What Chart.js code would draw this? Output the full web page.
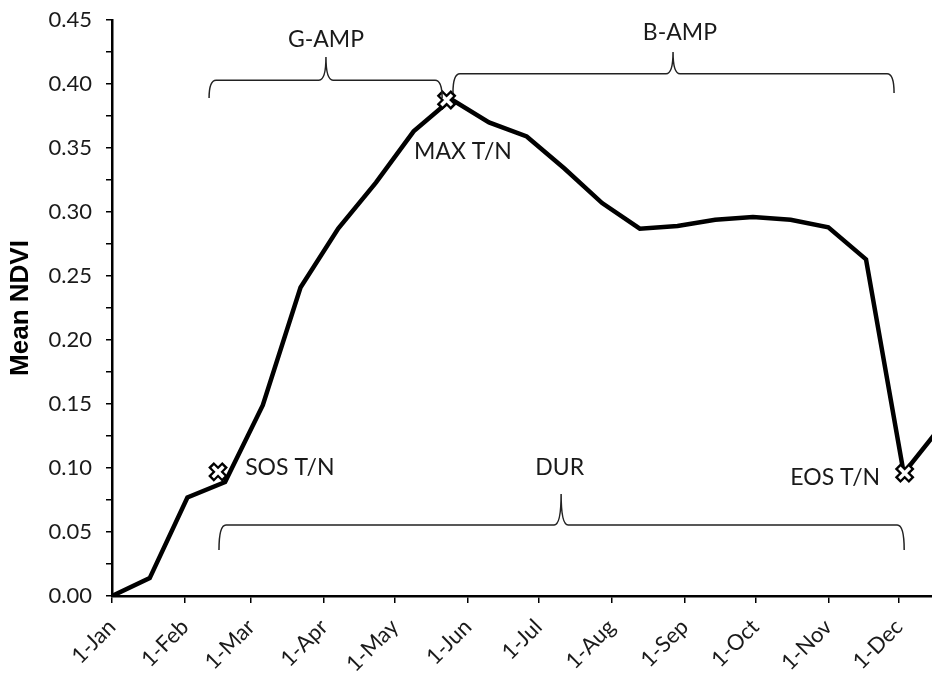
<!DOCTYPE html>
<html>
<head>
<meta charset="utf-8">
<script src="https://cdn.jsdelivr.net/npm/chart.js@4.4.1/dist/chart.umd.min.js"></script>
<style>
  html, body { margin: 0; padding: 0; background: #fff; overflow: hidden; }
  #wrap { width: 932px; height: 675px; position: relative; }
  canvas { display: block; }
</style>
</head>
<body>
<div id="wrap"><canvas id="myChart"></canvas></div>
<script>
// day of year for each 16-day composite, and mean NDVI
const days = [0, 16, 32, 48, 64, 80, 96, 112, 128, 144, 160, 176, 192, 208, 224, 240, 256, 272, 288, 304, 320, 336, 352]
const ndvi = [0.000, 0.014, 0.077, 0.089, 0.149, 0.241, 0.287, 0.323, 0.363, 0.388, 0.370, 0.359, 0.334,
              0.307, 0.287, 0.289, 0.294, 0.296, 0.294, 0.288, 0.263, 0.096, 0.133]

const monthDays = [0, 31, 59, 90, 120, 151, 181, 212, 243, 273, 304, 334]
const monthLabels = ['1-Jan', '1-Feb', '1-Mar', '1-Apr', '1-May', '1-Jun', '1-Jul', '1-Aug', '1-Sep', '1-Oct', '1-Nov', '1-Dec']

// phenology points (SOS, MAX, EOS)
const markerDays = [45, 142, 336.4]
const markerNdvi = [0.097, 0.3875, 0.096]

// text labels
const noteText = ['SOS T/N', 'MAX T/N', 'EOS T/N', 'G-AMP', 'B-AMP', 'DUR']
const noteDay = [56.5, 128.2, 326, 90.8, 241, 190]
const noteNdvi = [0.100, 0.347, 0.0925, 0.435, 0.440, 0.100]
const noteAlign = ['left', 'left', 'right', 'center', 'center', 'center']

// curly brackets: start, end, tip (days) and bar, ends, tip (ndvi)
const bracketStart = [41.2, 144.7, 45.4]
const bracketEnd = [140.1, 331.9, 336.2]
const bracketTip = [90.8, 238.1, 190.6]
const bracketBar = [0.403, 0.408, 0.0555]
const bracketFoot = [0.389, 0.393, 0.036]
const bracketPeak = [0.421, 0.425, 0.0797]

const FONT = 'Lato, "Open Sans", sans-serif'

const toXY = (xs, ys) => xs.map((x, i) => ({x: x, y: ys[i]}))

const annotate = {
    id: 'annotate',
    afterDatasetsDraw(chart) {
        const ctx = chart.ctx
        const xs = chart.scales.x
        const ys = chart.scales.y
        ctx.save()
        ctx.strokeStyle = '#222'
        ctx.lineWidth = 1.5
        for (let i = 0; i < bracketStart.length; i++) {
            let x1 = xs.getPixelForValue(bracketStart[i])
            let x2 = xs.getPixelForValue(bracketEnd[i])
            let xt = xs.getPixelForValue(bracketTip[i])
            let yb = ys.getPixelForValue(bracketBar[i])
            let yf = ys.getPixelForValue(bracketFoot[i])
            let yp = ys.getPixelForValue(bracketPeak[i])
            let r = 7
            ctx.beginPath()
            ctx.moveTo(x1, yf)
            ctx.quadraticCurveTo(x1, yb, x1 + r, yb)
            ctx.lineTo(xt - r, yb)
            ctx.quadraticCurveTo(xt, yb, xt, yp)
            ctx.quadraticCurveTo(xt, yb, xt + r, yb)
            ctx.lineTo(x2 - r, yb)
            ctx.quadraticCurveTo(x2, yb, x2, yf)
            ctx.stroke()
        }
        ctx.fillStyle = '#1a1a1a'
        ctx.font = '23px ' + FONT
        ctx.textBaseline = 'middle'
        for (let i = 0; i < noteText.length; i++) {
            ctx.textAlign = noteAlign[i]
            ctx.fillText(noteText[i], xs.getPixelForValue(noteDay[i]), ys.getPixelForValue(noteNdvi[i]))
        }
        ctx.restore()
    }
}

const ctx = document.getElementById('myChart')

const myChart = new Chart(ctx, {
    type: 'line',
    data: {
        datasets: [
            {
                label: 'marker inner',
                data: toXY(markerDays, markerNdvi),
                showLine: false,
                pointStyle: 'crossRot',
                pointRadius: 7.5,
                borderColor: '#fff',
                pointBorderWidth: 3.5,
                pointBorderColor: '#fff'
            },
            {
                label: 'marker outline',
                data: toXY(markerDays, markerNdvi),
                showLine: false,
                pointStyle: 'crossRot',
                pointRadius: 10,
                borderColor: '#000',
                pointBorderWidth: 8,
                pointBorderColor: '#000'
            },
            {
                label: 'Mean NDVI',
                data: toXY(days, ndvi),
                borderColor: '#000',
                borderWidth: 4.5,
                tension: 0,
                pointRadius: 0
            }
        ]
    },
    options: {
        responsive: true,
        maintainAspectRatio: false,
        animation: false,
        layout: {autoPadding: false, padding: {top: 20, right: 0, bottom: 0, left: 0}},
        plugins: {
            legend: {display: false},
            tooltip: {enabled: false}
        },
        scales: {
            x: {
                type: 'linear',
                min: 0,
                max: 348,
                afterBuildTicks: (scale) => {
                    scale.ticks = monthDays.map(v => ({value: v}))
                },
                afterFit: (scale) => {
                    scale.height = 79
                    scale.paddingLeft = 0
                    scale.paddingRight = 0
                },
                border: {color: '#000', width: 2.5},
                grid: {drawOnChartArea: false, drawTicks: true, tickLength: 7, color: '#000', lineWidth: 1.5},
                ticks: {
                    autoSkip: false,
                    maxRotation: 45,
                    minRotation: 45,
                    padding: 11,
                    color: '#1a1a1a',
                    font: {family: FONT, size: 22},
                    callback: (v) => monthLabels[monthDays.indexOf(v)]
                }
            },
            y: {
                min: 0,
                max: 0.45,
                afterBuildTicks: (scale) => {
                    let t = []
                    for (let i = 0; i <= 18; i++) t.push({value: i * 0.025})
                    scale.ticks = t
                },
                afterFit: (scale) => {
                    scale.width = 112
                    scale.paddingTop = 0
                    scale.paddingBottom = 0
                },
                border: {color: '#000', width: 2.5},
                grid: {drawOnChartArea: false, drawTicks: true, tickLength: 6, color: '#000', lineWidth: 1.5},
                ticks: {
                    autoSkip: false,
                    padding: 14,
                    color: '#1a1a1a',
                    font: {family: FONT, size: 22},
                    callback: (v) => Math.round(v * 1000) % 50 === 0 ? v.toFixed(2) : ''
                },
                title: {
                    display: true,
                    text: 'Mean NDVI',
                    color: '#000',
                    padding: {top: 5, bottom: 0},
                    font: {family: '"Liberation Sans", Arial, sans-serif', size: 26, weight: 'bold'}
                }
            }
        }
    },
    plugins: [annotate]
});
</script>
</body>
</html>
